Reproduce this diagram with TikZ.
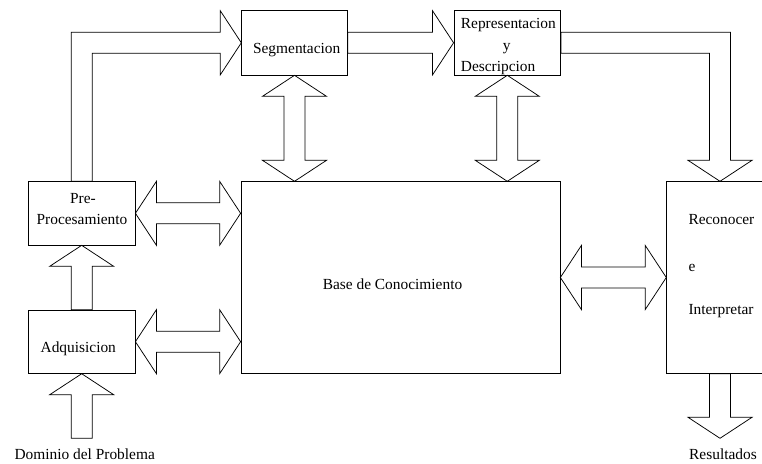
\documentclass[tikz,border=0pt]{standalone}
\usepackage{fontspec}
\setmainfont{Liberation Serif}
\usetikzlibrary{calc}

% arrow geometry: head length, head half-width, shaft half-width
\def\ahl{21pt}
\def\ahw{32pt}
\def\asw{10.5pt}

% fat double arrow, horizontal: #1 left tip, #2 right tip
\newcommand\fatdoubleh[2]{%
  \draw[fat] let \p1=(#1), \p2=(#2) in
    (\x1,\y1) -- (\x1+\ahl,\y1+\ahw) -- (\x1+\ahl,\y1+\asw) -- (\x2-\ahl,\y1+\asw)
    -- (\x2-\ahl,\y1+\ahw) -- (\x2,\y1) -- (\x2-\ahl,\y1-\ahw) -- (\x2-\ahl,\y1-\asw)
    -- (\x1+\ahl,\y1-\asw) -- (\x1+\ahl,\y1-\ahw) -- cycle;}

% fat double arrow, vertical: #1 top tip, #2 bottom tip
\newcommand\fatdoublev[2]{%
  \draw[fat] let \p1=(#1), \p2=(#2) in
    (\x1,\y1) -- (\x1+\ahw,\y1-\ahl) -- (\x1+\asw,\y1-\ahl) -- (\x1+\asw,\y2+\ahl)
    -- (\x1+\ahw,\y2+\ahl) -- (\x1,\y2) -- (\x1-\ahw,\y2+\ahl) -- (\x1-\asw,\y2+\ahl)
    -- (\x1-\asw,\y1-\ahl) -- (\x1-\ahw,\y1-\ahl) -- cycle;}

% fat single arrow pointing right: #1 tail, #2 tip
\newcommand\fatright[2]{%
  \draw[fat] let \p1=(#1), \p2=(#2) in
    (\x1,\y1+\asw) -- (\x2-\ahl,\y1+\asw) -- (\x2-\ahl,\y1+\ahw) -- (\x2,\y1)
    -- (\x2-\ahl,\y1-\ahw) -- (\x2-\ahl,\y1-\asw) -- (\x1,\y1-\asw) -- cycle;}

% fat single arrow pointing up: #1 tail, #2 tip
\newcommand\fatup[2]{%
  \draw[fat] let \p1=(#1), \p2=(#2) in
    (\x1-\asw,\y1) -- (\x1-\asw,\y2-\ahl) -- (\x1-\ahw,\y2-\ahl) -- (\x1,\y2)
    -- (\x1+\ahw,\y2-\ahl) -- (\x1+\asw,\y2-\ahl) -- (\x1+\asw,\y1) -- cycle;}

% fat single arrow pointing down: #1 tail, #2 tip
\newcommand\fatdown[2]{%
  \draw[fat] let \p1=(#1), \p2=(#2) in
    (\x1-\asw,\y1) -- (\x1-\asw,\y2+\ahl) -- (\x1-\ahw,\y2+\ahl) -- (\x1,\y2)
    -- (\x1+\ahw,\y2+\ahl) -- (\x1+\asw,\y2+\ahl) -- (\x1+\asw,\y1) -- cycle;}

% fat bent arrow, up then right: #1 tail (below), #2 tip (on the right)
\newcommand\fatupright[2]{%
  \draw[fat] let \p1=(#1), \p2=(#2) in
    (\x1-\asw,\y1) -- (\x1-\asw,\y2+\asw) -- (\x2-\ahl,\y2+\asw) -- (\x2-\ahl,\y2+\ahw)
    -- (\x2,\y2) -- (\x2-\ahl,\y2-\ahw) -- (\x2-\ahl,\y2-\asw) -- (\x1+\asw,\y2-\asw)
    -- (\x1+\asw,\y1) -- cycle;}

% fat bent arrow, right then down: #1 tail (on the left), #2 tip (below)
\newcommand\fatrightdown[2]{%
  \draw[fat] let \p1=(#1), \p2=(#2) in
    (\x1,\y1+\asw) -- (\x2+\asw,\y1+\asw) -- (\x2+\asw,\y2+\ahl) -- (\x2+\ahw,\y2+\ahl)
    -- (\x2,\y2) -- (\x2-\ahw,\y2+\ahl) -- (\x2-\asw,\y2+\ahl) -- (\x2-\asw,\y1-\asw)
    -- (\x1,\y1-\asw) -- cycle;}

\begin{document}
\begin{tikzpicture}[x=1pt,y=1pt,
  box/.style={draw=black, line width=0.75pt, inner sep=0pt, minimum width=#1},
  box/.default=106.7pt,
  fat/.style={draw=black, line width=0.75pt, line join=miter},
  txt/.style={inner sep=0pt, font=\fontsize{15.4}{18}\selectfont}]

\clip (0,0) rectangle (762,463);

% blocks
\node[box=105.6pt, minimum height=64.3pt] (seg)  at (294.5,420.2) {};
\node[box, minimum height=64.3pt]          (rep)  at (507.3,420.2) {};
\node[box, minimum height=63.3pt]          (pre)  at (81.7,249.7) {};
\node[box, minimum height=63.3pt]          (adq)  at (81.7,121.3) {};
\node[box=319pt, minimum height=191.6pt]   (base) at (400.5,185.5) {};
\node[box, minimum height=191.6pt]         (rec)  at (720,185.5) {};

% block texts
\node[txt, anchor=base] (tseg) at (296.7,409.7) {Segmentacion};
\node[txt, anchor=base west] (trep1) at (460.7,434) {Representacion};
\node[txt, anchor=base] (trep2) at (506.7,412.5) {y};
\node[txt, anchor=base west] (trep3) at (460.7,391.3) {Descripcion};
\node[txt, anchor=base] (tpre1) at (83,259.7) {Pre-};
\node[txt, anchor=base] (tpre2) at (82,238) {Procesamiento};
\node[txt, anchor=base] (tadq) at (78.3,110.3) {Adquisicion};
\node[txt, anchor=base] (tbase) at (392.5,173.7) {Base de Conocimiento};
\node[txt, anchor=base west] (trec1) at (688.3,238) {Reconocer};
\node[txt, anchor=base west] (trec2) at (688.3,191.5) {e};
\node[txt, anchor=base west] (trec3) at (688.3,148) {Interpretar};

% free ends of the input and output arrows
\coordinate (domtail) at (81.7,24.7);
\coordinate (restip) at (720,24.7);
\node[txt, anchor=base] (tdom) at (84.7,3.7) {Dominio del Problema};
\node[txt, anchor=base] (tres) at (723,4) {Resultados};

% flow of the processing chain
\fatup{domtail}{adq.south}
\fatup{adq.north}{pre.south}
\fatupright{pre.north}{seg.west}
\fatright{seg.east}{rep.west}
\fatrightdown{rep.east}{rec.north}
\fatdown{rec.south}{restip}

% exchanges with the knowledge base
\fatdoubleh{pre.east}{pre.east -| base.west}
\fatdoubleh{adq.east}{adq.east -| base.west}
\fatdoubleh{base.east}{rec.west}
\fatdoublev{seg.south}{seg.south |- base.north}
\fatdoublev{rep.south}{rep.south |- base.north}
\end{tikzpicture}
\end{document}
